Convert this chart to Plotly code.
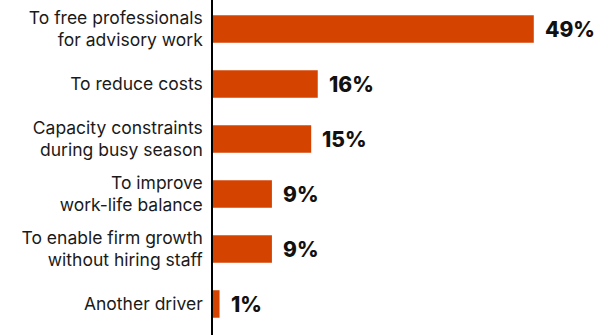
import plotly.graph_objects as go

categories = [
    "To free professionals<br>for advisory work",
    "To reduce costs",
    "Capacity constraints<br>during busy season",
    "To improve<br>work-life balance",
    "To enable firm growth<br>without hiring staff",
    "Another driver",
]
values = [49, 16, 15, 9, 9, 1]
value_labels = ["49%", "16%", "15%", "9%", "9%", "1%"]

BAR_COLOR = "#D54300"

fig = go.Figure(
    go.Bar(
        x=values,
        y=categories,
        orientation="h",
        marker=dict(color=BAR_COLOR, line=dict(width=0)),
        width=0.5,
        hoverinfo="skip",
    )
)

for v, c, t in zip(values, categories, value_labels):
    fig.add_annotation(
        x=v, y=c, text=t, showarrow=False,
        xanchor="left", yanchor="middle", xshift=9, yshift=-1,
        font=dict(family="Inter, sans-serif", size=21, color="#111111", weight=800),
    )

fig.update_layout(
    width=613, height=335,
    margin=dict(l=213, r=0, t=0, b=0),
    paper_bgcolor="white", plot_bgcolor="white",
    showlegend=False,
    font=dict(family="Inter, sans-serif", size=17.5, color="#1a1a1a"),
    xaxis=dict(range=[0, 61.1], visible=False, fixedrange=True),
    yaxis=dict(
        categoryorder="array", categoryarray=categories,
        range=[5.564, -0.527],
        showline=True, linecolor="black", linewidth=1.5,
        showgrid=False, zeroline=False, ticks="",
        ticklabelstandoff=5,
        tickfont=dict(family="Inter, sans-serif", size=17.5, color="#1a1a1a"),
    ),
)

fig.write_html("out.html")
